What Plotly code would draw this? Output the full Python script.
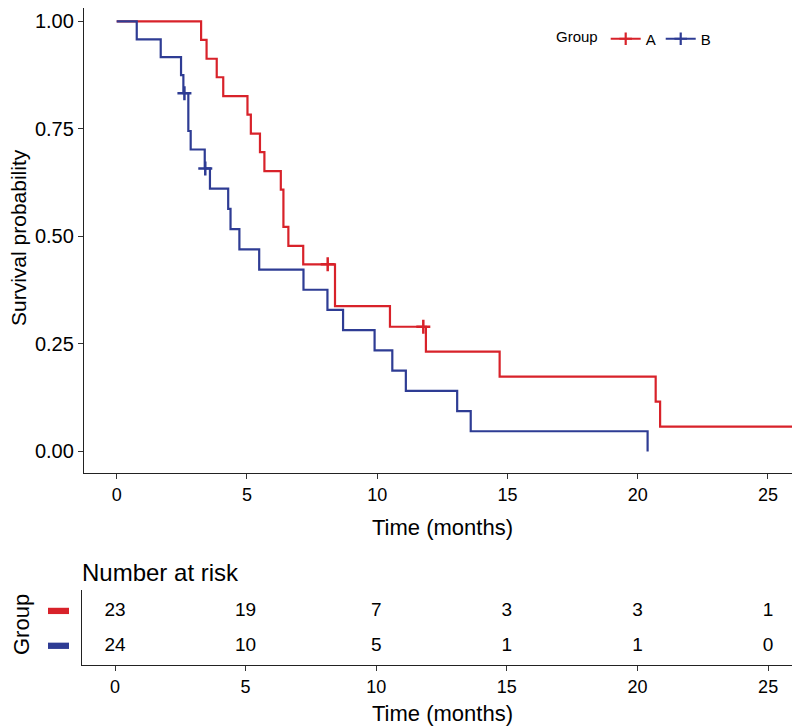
import plotly.graph_objects as go

# ---- data ----
A_time = [0, 3.24, 3.45, 3.84, 4.09, 5.02, 5.15, 5.50, 5.67, 6.30, 6.40, 6.59, 7.16, 8.38, 10.49, 11.87, 14.70, 20.69, 20.86, 26.4]
A_surv = [1.000, 0.957, 0.913, 0.870, 0.826, 0.783, 0.739, 0.696, 0.652, 0.609, 0.522, 0.478, 0.435, 0.338, 0.290, 0.232, 0.174, 0.116, 0.058, 0.058]
A_cens_time = [8.10, 11.77]
A_cens_surv = [0.435, 0.290]

B_time = [0, 0.77, 1.69, 2.47, 2.56, 2.75, 2.84, 3.38, 3.58, 4.28, 4.37, 4.71, 5.47, 7.17, 8.09, 8.69, 9.90, 10.58, 11.10, 13.07, 13.59, 20.38]
B_surv = [1.000, 0.958, 0.917, 0.875, 0.833, 0.745, 0.702, 0.658, 0.611, 0.564, 0.517, 0.470, 0.423, 0.376, 0.329, 0.282, 0.235, 0.188, 0.141, 0.094, 0.047, 0.000]
B_cens_time = [2.60, 3.40]
B_cens_surv = [0.833, 0.658]

risk_times = [0, 5, 10, 15, 20, 25]
risk_A = [23, 19, 7, 3, 3, 1]
risk_B = [24, 10, 5, 1, 1, 0]
groups = ["A", "B"]
y_ticks = [0, 0.25, 0.5, 0.75, 1.0]
y_ticktext = ["0.00", "0.25", "0.50", "0.75", "1.00"]

RED = "#D8222A"
BLUE = "#2E3C94"
FONT = "Liberation Sans"
OFF = 8            # default page body margin
W, H = 800 - OFF, 728 - OFF

def px_x(p):
    return (p - OFF) / W

def px_y(p):
    return 1 - (p - OFF) / H

fig = go.Figure()

# survival curves
fig.add_trace(go.Scatter(x=A_time, y=A_surv, mode="lines", line=dict(color=RED, width=2.2, shape="hv"),
                         showlegend=False, xaxis="x", yaxis="y", hoverinfo="skip"))
fig.add_trace(go.Scatter(x=B_time, y=B_surv, mode="lines", line=dict(color=BLUE, width=2.2, shape="hv"),
                         showlegend=False, xaxis="x", yaxis="y", hoverinfo="skip"))
# censor marks
fig.add_trace(go.Scatter(x=A_cens_time, y=A_cens_surv, mode="markers",
                         marker=dict(symbol="cross-thin", size=10, line=dict(color=RED, width=2.5)),
                         showlegend=False, xaxis="x", yaxis="y"))
fig.add_trace(go.Scatter(x=B_cens_time, y=B_cens_surv, mode="markers",
                         marker=dict(symbol="cross-thin", size=10, line=dict(color=BLUE, width=2.5)),
                         showlegend=False, xaxis="x", yaxis="y"))
# legend entries
for g, c in zip(groups, [RED, BLUE]):
    fig.add_trace(go.Scatter(x=[None], y=[None], mode="lines+markers", name=g,
                             line=dict(color=c, width=2.2),
                             marker=dict(symbol="cross-thin", size=9, line=dict(color=c, width=2.2)),
                             xaxis="x", yaxis="y"))

# risk table numbers
fig.add_trace(go.Scatter(x=risk_times, y=[2] * len(risk_times), text=[str(v) for v in risk_A], mode="text",
                         textfont=dict(family=FONT, size=19, color="black"), showlegend=False,
                         xaxis="x2", yaxis="y2", hoverinfo="skip"))
fig.add_trace(go.Scatter(x=risk_times, y=[1] * len(risk_times), text=[str(v) for v in risk_B], mode="text",
                         textfont=dict(family=FONT, size=19, color="black"), showlegend=False,
                         xaxis="x2", yaxis="y2", hoverinfo="skip"))

axis_common = dict(showline=True, linecolor="#222", linewidth=1.3, ticks="outside", ticklen=5,
                   tickcolor="#333", tickwidth=1.2, showgrid=False, zeroline=False)

fig.update_layout(
    width=W, height=H,
    margin=dict(l=0, r=0, t=0, b=0),
    paper_bgcolor="white", plot_bgcolor="white",
    font=dict(family=FONT, color="black"),
    xaxis=dict(domain=[px_x(84), 1], range=[-1.255, 26.23], tickvals=risk_times,
               tickfont=dict(size=18, color="black"), anchor="y", **axis_common),
    yaxis=dict(domain=[px_y(473), px_y(8)], range=[-0.05, 1.031], tickvals=y_ticks,
               ticktext=y_ticktext, tickfont=dict(size=20, color="black"),
               anchor="x", **axis_common),
    xaxis2=dict(domain=[px_x(82), 1], range=[-1.263, 26.22], tickvals=risk_times,
                tickfont=dict(size=18, color="black"), anchor="y2", **axis_common),
    yaxis2=dict(domain=[px_y(665), px_y(590)], range=[0.449, 2.6], showline=True, linecolor="#222",
                linewidth=1.3, showticklabels=False, ticks="", showgrid=False, zeroline=False, anchor="x2"),
    legend=dict(orientation="h", x=px_x(554), xanchor="left", y=px_y(39), yanchor="middle",
                title=dict(text="Group", font=dict(size=15, color="black"), side="left"),
                font=dict(size=15, color="black"), bgcolor="rgba(0,0,0,0)", itemwidth=30),
    showlegend=True,
)

ann = [
    dict(text="Survival probability", x=px_x(19), y=px_y(238), textangle=-90, size=21),
    dict(text="Time (months)", x=px_x(442), y=px_y(527), size=22),
    dict(text="Number at risk", x=px_x(80), y=px_y(572), xanchor="left", size=24),
    dict(text="Group", x=px_x(21), y=px_y(625), textangle=-90, size=22),
    dict(text="Time (months)", x=px_x(443), y=px_y(713), size=22),
]
for a in ann:
    a.setdefault("xanchor", "center")
    size = a.pop("size")
    fig.add_annotation(xref="paper", yref="paper", showarrow=False, yanchor="middle",
                       font=dict(family=FONT, color="black", size=size), **a)

# colored group keys in the risk table
for yv, c in zip([2, 1], [RED, BLUE]):
    fig.add_shape(type="rect", xref="paper", yref="y2", x0=px_x(48), x1=px_x(69), y0=yv - 0.09, y1=yv + 0.09,
                  fillcolor=c, line=dict(width=0))

fig.write_html("out.html")
